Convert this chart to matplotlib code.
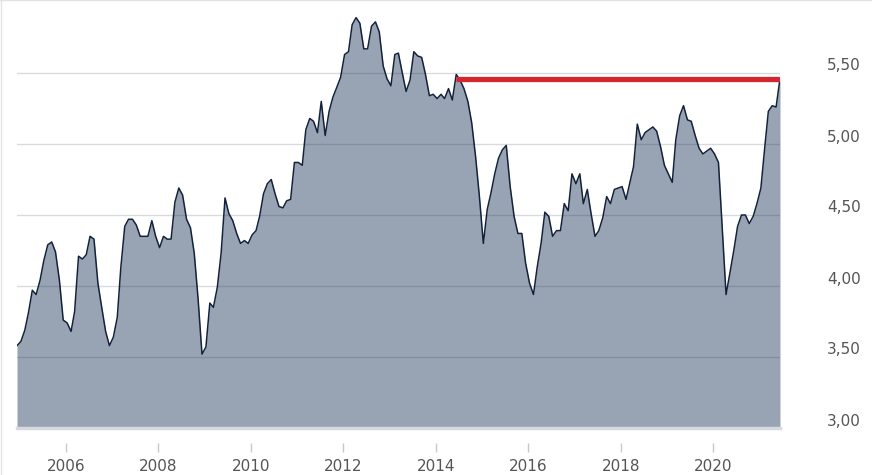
import numpy as np
import pandas as pd
import matplotlib
matplotlib.use("Agg")
import matplotlib.pyplot as plt
import matplotlib.dates as mdates
from matplotlib.ticker import FuncFormatter
from matplotlib.transforms import ScaledTranslation
from matplotlib.lines import Line2D

# monthly closing values, Dec 2004 .. Jun 2021
price = [
    3.58, 3.61, 3.69, 3.81, 3.97, 3.94, 4.04, 4.18, 4.29, 4.31, 4.24, 4.04,
    3.76, 3.74, 3.68, 3.82, 4.21, 4.19, 4.22, 4.35, 4.33, 4.02, 3.85, 3.68,
    3.58, 3.64, 3.78, 4.13, 4.42, 4.47, 4.47, 4.43, 4.35, 4.35, 4.35, 4.46,
    4.35, 4.27, 4.35, 4.33, 4.33, 4.59, 4.69, 4.64, 4.47, 4.41, 4.23, 3.90,
    3.52, 3.57, 3.88, 3.85, 3.99, 4.23, 4.62, 4.51, 4.46, 4.37, 4.30, 4.32,
    4.30, 4.36, 4.39, 4.49, 4.65, 4.72, 4.75, 4.65, 4.56, 4.55, 4.60, 4.61,
    4.87, 4.87, 4.85, 5.10, 5.18, 5.16, 5.08, 5.30, 5.06, 5.23, 5.33, 5.40,
    5.47, 5.63, 5.65, 5.84, 5.89, 5.85, 5.67, 5.67, 5.83, 5.86, 5.79, 5.55,
    5.46, 5.41, 5.63, 5.64, 5.50, 5.37, 5.45, 5.65, 5.62, 5.61, 5.49, 5.34,
    5.35, 5.32, 5.35, 5.32, 5.39, 5.31, 5.49, 5.45, 5.39, 5.30, 5.15, 4.91,
    4.63, 4.30, 4.54, 4.65, 4.79, 4.90, 4.96, 4.99, 4.70, 4.49, 4.37, 4.37,
    4.16, 4.02, 3.94, 4.13, 4.30, 4.52, 4.49, 4.35, 4.39, 4.39, 4.58, 4.53,
    4.79, 4.72, 4.79, 4.58, 4.68, 4.51, 4.35, 4.39, 4.48, 4.63, 4.58, 4.68,
    4.69, 4.70, 4.61, 4.72, 4.84, 5.14, 5.03, 5.08, 5.10, 5.12, 5.09, 4.98,
    4.85, 4.79, 4.73, 5.03, 5.20, 5.27, 5.17, 5.16, 5.06, 4.97, 4.93, 4.95,
    4.97, 4.93, 4.87, 4.42, 3.94, 4.09, 4.25, 4.42, 4.50, 4.50, 4.44, 4.49,
    4.58, 4.69, 4.98, 5.23, 5.27, 5.26, 5.46,
]
dates = pd.date_range("2004-12-01", periods=len(price), freq="MS") + pd.Timedelta(days=10)

# horizontal marker from the mid-2014 high to the latest value
level_start = 114
level_value = price[-1]

y_ticks = [3.0, 3.5, 4.0, 4.5, 5.0, 5.5]

fig = plt.figure(figsize=(8.72, 4.75), dpi=100)
ax = fig.add_axes([17 / 872, 47 / 475, 763 / 872, 426 / 475])

ax.fill_between(dates, price, 3.0, color="#98a4b3", linewidth=0, zorder=1)
ax.plot(dates, price, color="#13223a", linewidth=1.1, zorder=3)
ax.plot([dates[level_start], dates[-1]], [level_value, level_value],
        color="#d2272f", linewidth=3.8, solid_capstyle="butt", zorder=5)

ax.set_xlim(dates[0], dates[-1])
ax.set_ylim(3.0, 6.0)

for s in ax.spines.values():
    s.set_visible(False)
ax.spines["bottom"].set_position(("outward", 11))

ax.set_yticks(y_ticks)
ax.yaxis.tick_right()
ax.yaxis.set_major_formatter(FuncFormatter(lambda v, p: f"{v:.2f}".replace(".", ",")))
ax.tick_params(axis="y", length=0, pad=34, labelsize=11, labelcolor="#555555")
for lab in ax.get_yticklabels():
    lab.set_transform(lab.get_transform() + ScaledTranslation(0, 8.5 / 100, fig.dpi_scale_trans))

ax.xaxis.set_major_locator(mdates.YearLocator(2))
ax.xaxis.set_major_formatter(mdates.DateFormatter("%Y"))
ax.tick_params(axis="x", length=6.5, width=1, color="#c8c8c8", pad=5,
               labelsize=11, labelcolor="#555555")

ax.set_axisbelow(False)
ax.grid(axis="y", color="#1c2a3a", alpha=0.17, linewidth=1, zorder=2.5)
ax.grid(axis="x", visible=False)
ax.axhline(3.0, color="#d6dadf", linewidth=2.5, zorder=4, clip_on=False)

# thin frame at the top and left edge of the image
fig.add_artist(Line2D([0, 1], [0.999, 0.999], transform=fig.transFigure, color="#e2e2e2", linewidth=1))
fig.add_artist(Line2D([0.001, 0.001], [0, 1], transform=fig.transFigure, color="#e2e2e2", linewidth=1))

fig.savefig("out.png", dpi=100)
